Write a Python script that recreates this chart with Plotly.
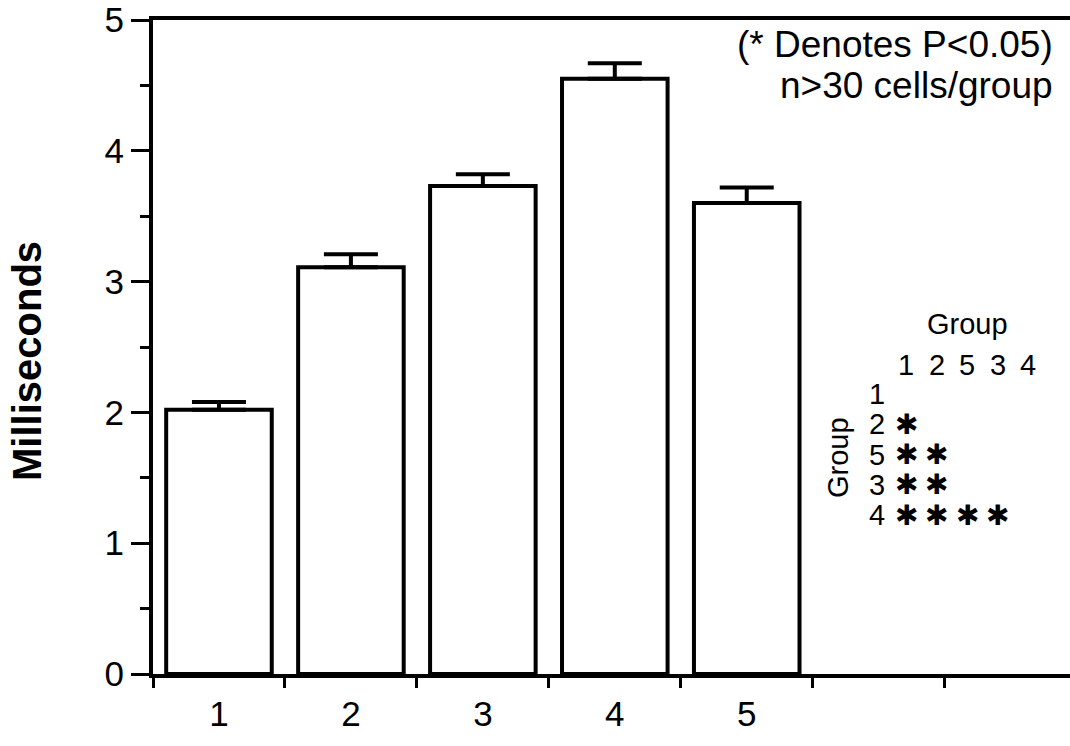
import plotly.graph_objects as go

# ---- data ----
groups = ["1", "2", "3", "4", "5"]
means = [2.02, 3.11, 3.73, 4.55, 3.60]
sem = [0.06, 0.10, 0.09, 0.12, 0.12]
y_ticks = [0, 1, 2, 3, 4, 5]

table_order = ["1", "2", "5", "3", "4"]
# significance matrix (row group vs column group), 1 = P<0.05
sig = [
    [0, 0, 0, 0, 0],
    [1, 0, 0, 0, 0],
    [1, 1, 0, 0, 0],
    [1, 1, 0, 0, 0],
    [1, 1, 1, 1, 0],
]

W, H = 1070, 746
L, R, T, B = 153, 0, 20, 72
PW, PH = W - L - R, H - T - B

def px(x):  # page pixel -> paper
    return (x - L) / PW

def py(y):
    return (H - B - y) / PH

FONT = "Liberation Sans, Arial, sans-serif"
xpos = list(range(1, len(groups) + 1))

fig = go.Figure()
fig.add_trace(go.Bar(
    x=xpos, y=means, width=0.8,
    marker=dict(color="white", line=dict(color="black", width=4)),
    error_y=dict(type="data", array=sem, arrayminus=[0] * len(sem), symmetric=False,
                 color="black", thickness=4, width=27),
    showlegend=False,
))

fig.update_layout(
    width=W, height=H,
    margin=dict(l=L, r=R, t=T, b=B, pad=0, autoexpand=False),
    paper_bgcolor="white", plot_bgcolor="white",
    font=dict(family=FONT, color="black", size=35),
    xaxis=dict(
        range=[0.5, 7.45], tickmode="array", tickvals=xpos, ticktext=groups,
        ticks="outside", ticklen=6, tickcolor="rgba(0,0,0,0)",
        showline=True, linecolor="black", linewidth=4, mirror=True,
        showgrid=False, zeroline=False,
        tickfont=dict(size=35),
        minor=dict(tickmode="linear", tick0=0.5, dtick=1, ticks="outside",
                   ticklen=10, tickwidth=3, tickcolor="black", showgrid=False),
    ),
    yaxis=dict(
        range=[0, 5], tickmode="array", tickvals=y_ticks,
        ticks="outside", ticklen=18, tickwidth=3, tickcolor="black",
        showline=True, linecolor="black", linewidth=4,
        showgrid=False, zeroline=False,
        tickfont=dict(size=35),
        minor=dict(tickmode="linear", tick0=0.5, dtick=1, ticks="outside",
                   ticklen=9, tickwidth=3, tickcolor="black", showgrid=False),
    ),
)

ann = []
ann.append(dict(text="<b>Milliseconds</b>", textangle=-90, x=px(27), y=py(361),
                xref="paper", yref="paper", showarrow=False, font=dict(size=40),
                xanchor="center", yanchor="middle"))
ann.append(dict(text="(* Denotes P<0.05)", x=px(1055), y=py(45), xref="paper", yref="paper",
                showarrow=False, xanchor="right", yanchor="middle", font=dict(size=37)))
ann.append(dict(text="n>30 cells/group", x=px(1055), y=py(85), xref="paper", yref="paper",
                showarrow=False, xanchor="right", yanchor="middle", font=dict(size=37)))

# significance table
tx0, tdx = 906, 30.5   # column x of first header entry, spacing
ty0, tdy = 394, 30.3   # row y of first row, spacing
lab_x = 877
ann.append(dict(text="Group", x=px(967), y=py(324), xref="paper", yref="paper",
                showarrow=False, xanchor="center", yanchor="middle", font=dict(size=29)))
ann.append(dict(text="Group", textangle=-90, x=px(838), y=py(458), xref="paper", yref="paper",
                showarrow=False, xanchor="center", yanchor="middle", font=dict(size=29)))
for j, g in enumerate(table_order):
    ann.append(dict(text=g, x=px(tx0 + j * tdx), y=py(365), xref="paper", yref="paper",
                    showarrow=False, xanchor="center", yanchor="middle", font=dict(size=29)))
for i, g in enumerate(table_order):
    yy = ty0 + i * tdy
    ann.append(dict(text=g, x=px(lab_x), y=py(yy), xref="paper", yref="paper",
                    showarrow=False, xanchor="center", yanchor="middle", font=dict(size=29)))
    for j, s in enumerate(sig[i]):
        if s:
            ann.append(dict(text="✱", x=px(tx0 + j * tdx), y=py(yy), xref="paper", yref="paper",
                            showarrow=False, xanchor="center", yanchor="middle",
                            font=dict(size=28, family="DejaVu Sans")))

fig.update_layout(annotations=ann)
fig.write_html("out.html", config={"displayModeBar": False},
               post_script="document.body.style.margin='0';document.body.style.overflow='hidden';")
